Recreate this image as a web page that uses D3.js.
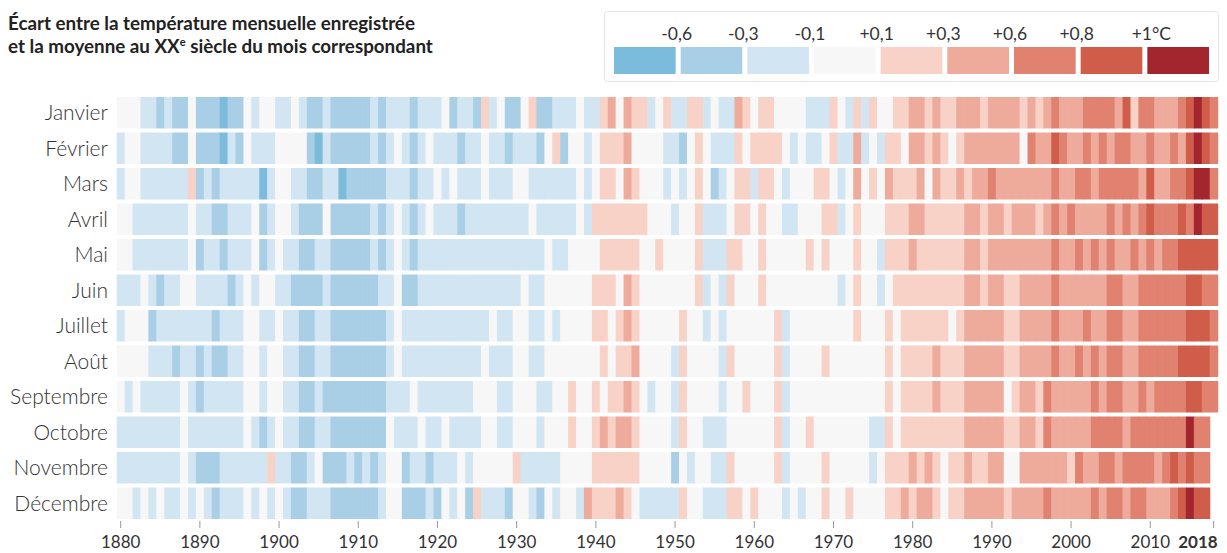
<!DOCTYPE html>
<html lang="fr">
<head>
<meta charset="utf-8">
<script src="https://cdn.jsdelivr.net/npm/d3@7"></script>
<style>
  html, body { margin: 0; padding: 0; background: #fff; }
  svg { display: block; font-family: "Lato", "Open Sans", sans-serif; }
</style>
</head>
<body>
<svg id="chart" width="1227" height="553"></svg>
<script>
"use strict";

// ─── Data: monthly anomaly vs 20th-century mean (°C) ───
const years = d3.range(1880, 2019);
const months = ["Janvier", "Février", "Mars", "Avril", "Mai", "Juin", "Juillet",
  "Août", "Septembre", "Octobre", "Novembre", "Décembre"];

const janvier = [
  0,0,0,-0.2,-0.2,-0.4,-0.2,-0.4,-0.4,0,
  -0.4,-0.4,-0.4,-0.7,-0.4,-0.4,0,-0.2,0,0,
  -0.2,-0.2,0,-0.2,-0.4,-0.4,-0.2,-0.4,-0.4,-0.4,
  -0.4,-0.4,-0.2,-0.4,-0.2,-0.2,-0.2,-0.4,-0.2,-0.2,
  -0.2,0,-0.4,-0.2,-0.2,-0.4,0.2,-0.2,0,-0.4,
  -0.4,0,0.2,-0.4,-0.4,-0.2,-0.2,-0.2,0,-0.2,
  -0.2,0.2,0.4,0,0.4,0.2,0.2,-0.2,0,0.2,
  -0.2,-0.2,0.2,0.2,-0.2,0,-0.2,-0.2,0.4,0.2,
  0,0.2,0.2,0,0,0,0,-0.2,-0.2,-0.2,
  0.2,0,-0.2,0.2,-0.2,0.2,0,0,0.2,0.2,
  0.4,0.4,0.2,0.4,0.2,0.2,0.4,0.4,0.4,0.2,
  0.4,0.4,0.4,0.4,0.2,0.4,0.2,0.4,0.7,0.4,
  0.4,0.4,0.7,0.7,0.7,0.7,0.4,0.9,0.2,0.7,
  0.7,0.4,0.4,0.4,0.7,0.9,1.1,0.9,0.7
];
const fevrier = [
  -0.2,0,0,-0.2,-0.2,-0.2,-0.2,-0.4,-0.4,0,
  -0.4,-0.4,-0.4,-0.7,-0.2,-0.4,0,-0.2,-0.2,-0.2,
  0,0,0,0,-0.4,-0.7,-0.2,-0.4,-0.4,-0.4,
  -0.4,-0.4,-0.2,-0.4,-0.2,0,-0.2,-0.4,-0.2,0,
  -0.2,-0.2,-0.2,-0.4,-0.2,-0.2,0,-0.2,-0.2,-0.4,
  -0.2,-0.2,-0.2,-0.4,0,0.2,-0.4,0,0,-0.2,
  0,0.2,0.2,0.2,0.4,0,0,0,0,-0.2,
  -0.2,-0.4,0,0.2,0,-0.2,-0.2,-0.2,0.2,0,
  0.2,0.2,0.2,0.2,0,-0.2,0,-0.2,-0.2,0,
  0.2,-0.2,-0.2,0.4,-0.2,0,-0.2,0.2,0.2,0,
  0.4,0.4,0.2,0.4,0.2,0,0.2,0.4,0.4,0.4,
  0.4,0.4,0.4,0.4,0,0.7,0.4,0.4,0.9,0.7,
  0.4,0.4,0.7,0.4,0.7,0.4,0.7,0.7,0.4,0.4,
  0.7,0.4,0.4,0.7,0.4,0.9,1.1,0.9,0.7
];
const mars = [
  -0.2,0,0,-0.2,-0.2,-0.2,-0.2,-0.2,-0.2,0.2,
  -0.4,-0.2,-0.4,-0.2,-0.2,-0.2,-0.2,-0.2,-0.7,-0.2,
  0,0,-0.2,-0.2,-0.4,-0.4,-0.2,-0.2,-0.7,-0.4,
  -0.4,-0.4,-0.4,-0.4,-0.2,-0.2,-0.2,-0.4,-0.2,-0.2,
  0,-0.2,0,-0.2,-0.2,-0.2,0,-0.2,-0.2,-0.2,
  0,0,-0.2,-0.2,-0.2,-0.2,-0.2,-0.2,0,-0.2,
  0,0.2,0.2,0,0.4,0.2,0,0,0,-0.2,
  0,-0.2,0,0.2,0,-0.4,-0.2,0,0.2,0.2,
  -0.2,0.2,0.2,0,-0.2,0,0,0,0.2,0.2,
  0,-0.2,0,0.4,0,0.2,0,0.4,0.2,0.2,
  0.2,0.4,0,0.4,0.2,0.2,0.4,0.2,0.4,0.4,
  0.7,0.4,0.4,0.4,0.4,0.4,0.4,0.4,0.7,0.4,
  0.4,0.7,0.7,0.4,0.7,0.7,0.7,0.7,0.7,0.4,
  0.9,0.4,0.4,0.7,0.7,0.9,1.1,1.1,0.7
];
const avril = [
  0,0,-0.2,-0.2,-0.2,-0.2,-0.2,-0.2,-0.2,0,
  -0.2,-0.2,-0.4,-0.4,-0.2,-0.2,-0.2,0,-0.4,-0.2,
  0,0,-0.2,-0.4,-0.4,-0.4,0,-0.4,-0.4,-0.4,
  -0.4,-0.4,-0.2,-0.4,-0.2,0,-0.2,-0.4,-0.2,0,
  -0.2,-0.2,-0.2,-0.4,-0.2,-0.2,-0.2,-0.2,-0.2,-0.2,
  -0.2,-0.2,0,-0.2,-0.2,-0.2,-0.2,-0.2,0,-0.2,
  0.2,0.2,0.2,0.2,0.2,0.2,0.2,0,0,0,
  -0.2,0,0,0.2,-0.2,-0.2,-0.2,0,0.2,0.2,
  0,0.2,0,0,-0.2,-0.2,0,0,0,0.2,
  0.2,-0.2,0,0.2,0,0,0,0.2,0.2,0.2,
  0.4,0.4,0.2,0.2,0.2,0.2,0.2,0.4,0.4,0.2,
  0.4,0.4,0.2,0.4,0.4,0.4,0.2,0.4,0.7,0.4,
  0.7,0.4,0.4,0.4,0.4,0.7,0.4,0.7,0.4,0.7,
  0.9,0.7,0.7,0.7,0.9,0.7,1.1,0.9,0.9
];
const mai = [
  0,0,-0.2,-0.2,-0.2,-0.2,-0.2,-0.2,-0.2,0,
  -0.4,-0.2,-0.2,-0.4,-0.2,-0.2,-0.2,0,-0.4,-0.2,
  0,-0.2,-0.2,-0.4,-0.4,-0.2,-0.2,-0.4,-0.4,-0.4,
  -0.4,-0.4,-0.2,-0.4,-0.2,0,-0.2,-0.4,-0.2,-0.2,
  -0.2,-0.2,-0.2,-0.2,-0.2,-0.2,-0.2,-0.2,-0.2,-0.2,
  -0.2,-0.2,-0.2,-0.2,0,-0.2,-0.2,0,0,0,
  0,0.2,0.2,0.2,0.2,0.2,0,0,0.2,0,
  0,0,0,0.2,-0.2,-0.2,-0.2,0.2,0.2,0,
  0,0.2,0,0,0,0,0,0.2,0,0.2,
  0,0,0,0.2,0,0,-0.2,0.2,0.2,0.2,
  0.4,0.2,0.2,0.2,0.2,0.2,0.2,0.4,0.4,0.2,
  0.4,0.4,0.4,0.4,0.4,0.4,0.4,0.4,0.7,0.4,
  0.4,0.7,0.4,0.7,0.4,0.7,0.4,0.4,0.7,0.4,
  0.7,0.4,0.7,0.7,0.9,0.9,0.9,0.9,0.9
];
const juin = [
  -0.2,-0.2,-0.2,0,-0.2,-0.4,-0.2,-0.2,0,0,
  -0.2,-0.2,-0.2,-0.2,-0.4,-0.2,0,-0.2,0,0,
  -0.2,-0.2,-0.4,-0.4,-0.4,-0.4,-0.2,-0.4,-0.4,-0.4,
  -0.4,-0.4,-0.4,-0.2,-0.2,0,-0.4,-0.4,-0.2,-0.2,
  -0.2,-0.2,-0.2,-0.2,-0.2,-0.2,-0.2,-0.2,-0.2,-0.2,
  -0.2,0,-0.2,-0.2,0,0,0,0,0,0,
  0.2,0.2,0.2,0,0.4,0.2,0,0,0,0,
  0,0,0,0.2,-0.2,0,-0.2,0.2,0,0,
  0,0.2,0,0,0,0,0,0,0,0,
  0,-0.2,0,0.2,0,0,-0.2,0,0.2,0.2,
  0.2,0.2,0.2,0.2,0.2,0.2,0.2,0.4,0.4,0.2,
  0.4,0.4,0.2,0.2,0.4,0.4,0.4,0.4,0.7,0.4,
  0.4,0.4,0.4,0.4,0.4,0.7,0.7,0.4,0.4,0.7,
  0.7,0.7,0.7,0.7,0.7,0.9,0.9,0.7,0.7
];
const juillet = [
  -0.2,0,0,0,-0.4,-0.2,-0.2,-0.2,-0.2,-0.2,
  -0.2,-0.2,-0.4,-0.2,-0.2,-0.2,0,0,-0.2,-0.2,
  0,-0.2,-0.2,-0.4,-0.4,-0.2,-0.2,-0.4,-0.4,-0.4,
  -0.4,-0.4,-0.4,-0.4,-0.2,0,-0.2,-0.2,-0.2,-0.2,
  -0.2,-0.2,-0.2,-0.2,-0.2,-0.2,-0.2,0,-0.2,-0.2,
  0,0,-0.2,-0.2,0,-0.2,0,0,0,0,
  0.2,0.2,0,0.2,0.4,0.2,0,0,0,0,
  0,0.2,0,0,-0.2,0,-0.2,0,0,0,
  0,0,0,0.2,-0.2,0,0,0,0,0,
  0,0,0,0.2,0,0,0,0.2,0,0.2,
  0.2,0.2,0.2,0.2,0.2,0,0.2,0.4,0.4,0.4,
  0.4,0.4,0.2,0.2,0.4,0.4,0.4,0.4,0.7,0.4,
  0.4,0.4,0.7,0.4,0.4,0.7,0.7,0.4,0.4,0.7,
  0.7,0.7,0.7,0.7,0.7,0.9,0.9,0.9,0.7
];
const aout = [
  0,0,0,0,-0.2,-0.2,-0.2,-0.4,-0.2,-0.2,
  -0.4,-0.2,-0.4,-0.4,-0.2,-0.2,0,0,-0.2,0,
  0,-0.2,-0.2,-0.4,-0.4,-0.2,-0.2,-0.4,-0.4,-0.4,
  -0.4,-0.4,-0.4,-0.4,-0.2,0,-0.2,-0.2,-0.2,-0.2,
  -0.2,-0.2,-0.2,-0.2,-0.2,-0.2,0,-0.2,-0.2,-0.2,
  0,0,-0.2,-0.2,0,0,0,0,0,0,
  0,0.2,0,0.2,0.2,0.4,0,0,0,0,
  -0.2,0.2,0,0,0,0,-0.2,0.2,0,0,
  0,0,0,0.2,-0.2,0,0,0,0,0.2,
  0,0,0,0,0,0,0,0.2,0,0.2,
  0.2,0.2,0.2,0.4,0.2,0.2,0.2,0.4,0.4,0.4,
  0.4,0.4,0.2,0.2,0.4,0.4,0.4,0.4,0.7,0.4,
  0.4,0.7,0.4,0.7,0.4,0.7,0.7,0.4,0.4,0.7,
  0.7,0.7,0.7,0.7,0.9,0.9,0.9,0.9,0.7
];
const septembre = [
  0,-0.2,0,-0.2,-0.2,-0.2,-0.2,-0.2,0,-0.2,
  -0.4,-0.2,-0.2,-0.2,-0.2,-0.2,0,0,-0.2,0,
  0,-0.2,-0.2,-0.4,-0.4,-0.2,-0.4,-0.4,-0.4,-0.4,
  -0.4,-0.4,-0.4,-0.4,-0.2,-0.2,-0.2,0,-0.2,-0.2,
  -0.2,-0.2,-0.2,-0.2,-0.2,0,0,0,-0.2,-0.2,
  0,0,0,-0.2,-0.2,0,0,0.2,0,0,
  0.2,0,0.2,0.2,0.4,0.2,0,-0.2,0,0,
  -0.2,0.2,0,0,0,0,-0.2,0,0,0.2,
  0,0,0,0.2,-0.2,0,0,0,0,0,
  0,0,0,0,0,0,0,0.2,0,0.2,
  0.2,0.2,0.2,0.4,0.2,0.2,0.2,0.4,0.4,0.4,
  0.4,0.4,0,0.2,0.4,0.4,0.2,0.7,0.4,0.4,
  0.4,0.4,0.4,0.7,0.4,0.7,0.7,0.4,0.4,0.7,
  0.4,0.7,0.7,0.7,0.7,0.9,0.9,0.7,0.7
];
const octobre = [
  -0.2,-0.2,-0.2,-0.2,-0.2,-0.2,-0.2,-0.2,0,-0.2,
  -0.2,-0.2,-0.2,-0.2,-0.2,-0.2,0,-0.2,-0.4,-0.2,
  0,-0.2,-0.2,-0.4,-0.4,-0.2,-0.2,-0.4,-0.4,-0.4,
  -0.4,-0.4,-0.4,-0.4,0,-0.2,-0.2,-0.2,0,-0.2,
  -0.2,0,-0.2,-0.2,-0.2,-0.2,0,0,-0.2,-0.2,
  0,0,0,-0.2,0,0,0,0.2,0,0,
  0.2,0.4,0.2,0.4,0.4,0.2,0,0,0,0,
  -0.2,0.2,0,0,-0.2,-0.2,-0.2,0,0,0,
  0,0,0,0.2,-0.2,0,0,0.2,0,0,
  0,0,0,0,0,-0.2,-0.2,0.2,0,0.2,
  0.2,0.2,0.2,0.2,0.2,0.2,0.2,0.4,0.4,0.4,
  0.4,0.4,0.2,0.2,0.4,0.4,0.2,0.7,0.4,0.4,
  0.4,0.4,0.4,0.7,0.7,0.7,0.7,0.4,0.7,0.7,
  0.7,0.7,0.7,0.7,0.7,1.1,0.7,0.7,null
];
const novembre = [
  -0.2,-0.2,-0.2,-0.2,-0.2,-0.2,-0.2,-0.2,0,-0.2,
  -0.4,-0.4,-0.4,-0.2,-0.2,-0.2,-0.2,-0.2,-0.2,0.2,
  -0.2,-0.2,-0.4,-0.4,-0.2,0,-0.4,-0.4,-0.4,-0.2,
  -0.4,-0.2,-0.4,-0.2,0,0,-0.4,-0.2,-0.2,-0.4,
  -0.2,-0.2,-0.2,0,-0.2,0,0,0,0,0,
  0.2,-0.2,-0.2,-0.2,-0.2,-0.2,0,0,0,0,
  0.2,0.2,0.2,0.2,0.2,0.2,0,0,0,0,
  -0.4,0,-0.2,0,0,-0.2,-0.2,0.2,0,0,
  0,0,0,0.2,-0.2,0,0,0,0,0.2,
  0,0,0,0,0,-0.2,0,0.2,0.2,0.2,
  0.4,0.2,0.4,0.2,0,0.2,0.2,0.4,0.2,0.2,
  0.4,0.4,0,0,0.4,0.4,0.4,0.4,0.4,0.4,
  0.2,0.7,0.4,0.4,0.7,0.7,0.4,0.7,0.7,0.7,
  0.7,0.4,0.7,0.9,0.7,0.9,0.7,0.7,null
];
const decembre = [
  0,0,-0.2,0,-0.2,0,-0.2,-0.2,0,-0.2,
  0,-0.2,-0.4,-0.2,-0.2,-0.2,0,-0.2,0,-0.2,
  0,-0.2,-0.4,-0.4,-0.2,-0.2,-0.2,-0.4,-0.4,-0.4,
  -0.4,-0.4,-0.4,-0.2,0,0,-0.4,-0.4,-0.4,-0.2,
  -0.4,0,-0.2,0,-0.4,0.2,-0.2,-0.2,-0.2,-0.4,
  0,0,-0.2,-0.4,0,-0.2,0,0,-0.2,0.4,
  0.2,0.2,0.2,0.4,0.2,0,-0.2,-0.2,-0.2,-0.2,
  -0.2,0.2,0,0,-0.2,-0.2,-0.2,0.2,0.2,0,
  0.2,0,0,0,-0.2,0,-0.2,0,0,0.2,
  0,0,0.2,0,0,0,0,0.2,0.2,0.4,
  0.2,0.4,0.4,0.2,0,0.2,0.2,0.4,0.4,0.4,
  0.4,0.4,0.2,0.4,0.4,0.4,0.4,0.7,0.4,0.4,
  0.4,0.4,0.4,0.7,0.4,0.7,0.7,0.4,0.7,0.7,
  0.4,0.4,0.4,0.7,0.9,1.1,0.9,0.9,null
];

const series = [janvier, fevrier, mars, avril, mai, juin, juillet, aout,
  septembre, octobre, novembre, decembre];

const thresholds = [-0.6, -0.3, -0.1, 0.1, 0.3, 0.6, 0.8, 1.0];
const palette = ["#7bbcdc", "#a8cfe6", "#d1e6f2", "#f7f7f7", "#f8d1c7",
  "#eeab9b", "#e0826f", "#d05c4a", "#a3252d"];
const legendLabels = ["-0,6", "-0,3", "-0,1", "+0,1", "+0,3", "+0,6", "+0,8", "+1°C"];
const tickYears = [1880, 1890, 1900, 1910, 1920, 1930, 1940, 1950, 1960,
  1970, 1980, 1990, 2000, 2010, 2018];

// ─── Scales ─────────────────────────────────────────────────────────────────
const svg = d3.select("#chart");
const x = d3.scaleBand().domain(years).range([116.7, 1217.6]).padding(0);
const y = d3.scaleBand().domain(months).range([97, 519]).paddingInner(0.113).paddingOuter(0);
const color = d3.scaleThreshold().domain(thresholds).range(palette);

// ─── Title ──────────────────────────────────────────────────────────────────
const title = svg.append("text")
  .attr("x", 8).attr("y", 30)
  .attr("fill", "#222").attr("font-size", 18.8).attr("font-weight", 700);
title.append("tspan").text("Écart entre la température mensuelle enregistrée");
const t2 = title.append("tspan").attr("x", 8).attr("dy", 23).text("et la moyenne au XX");
t2.append("tspan").attr("font-size", 11).attr("dy", -7).text("e");
t2.append("tspan").attr("dy", 7).text(" siècle du mois correspondant");

// ─── Legend ─────────────────────────────────────────────────────────────────
const lg = svg.append("g").attr("class", "legend");
lg.append("rect")
  .attr("x", 604.5).attr("y", 11.5).attr("width", 614).attr("height", 70)
  .attr("rx", 3).attr("fill", "#fff").attr("stroke", "#e4e4e4");
const lx = d3.scaleLinear().domain([0, 9]).range([614, 1214]);
lg.selectAll("rect.sw").data(palette).join("rect")
  .attr("class", "sw")
  .attr("x", (d, i) => lx(i)).attr("y", 47)
  .attr("width", lx(1) - lx(0) - 5).attr("height", 27)
  .attr("fill", d => d);
lg.selectAll("text").data(legendLabels).join("text")
  .attr("x", (d, i) => lx(i + 1) - 4 + (i === 7 ? 8 : 0))
  .attr("y", 40)
  .attr("text-anchor", "middle")
  .attr("font-size", 17.5).attr("fill", "#333")
  .text(d => d);

// ─── Heatmap cells ──────────────────────────────────────────────────────────
const cells = [];
series.forEach((vals, mi) => {
  vals.forEach((v, yi) => {
    if (v != null) cells.push({ month: months[mi], year: years[yi], value: v });
  });
});

svg.append("g").attr("class", "cells")
  .selectAll("rect").data(cells).join("rect")
  .attr("x", d => x(d.year))
  .attr("y", d => y(d.month))
  .attr("width", x.bandwidth() + 0.6)
  .attr("height", y.bandwidth())
  .attr("fill", d => color(d.value));

// ─── Month labels ───────────────────────────────────────────────────────────
svg.append("g").selectAll("text").data(months).join("text")
  .attr("x", 108)
  .attr("y", d => y(d) + y.bandwidth() / 2)
  .attr("dy", "0.36em")
  .attr("text-anchor", "end")
  .attr("font-size", 21).attr("font-weight", 300).attr("fill", "#333")
  .text(d => d);

// ─── X axis ─────────────────────────────────────────────────────────────────
const axis = svg.append("g")
  .attr("transform", "translate(0,521)")
  .call(d3.axisBottom(x).tickValues(tickYears).tickSize(7).tickPadding(8).tickSizeOuter(0));
axis.select(".domain").remove();
axis.selectAll(".tick line").attr("stroke", "#999");
axis.selectAll(".tick text")
  .attr("font-family", "Lato, sans-serif")
  .attr("font-size", 17).attr("fill", "#333")
  .attr("font-weight", d => d === 2018 ? 700 : 400)
  .attr("text-anchor", d => d === 2018 ? "end" : "middle")
  .attr("dx", d => d === 2018 ? 4 : 0);
</script>
</body>
</html>
